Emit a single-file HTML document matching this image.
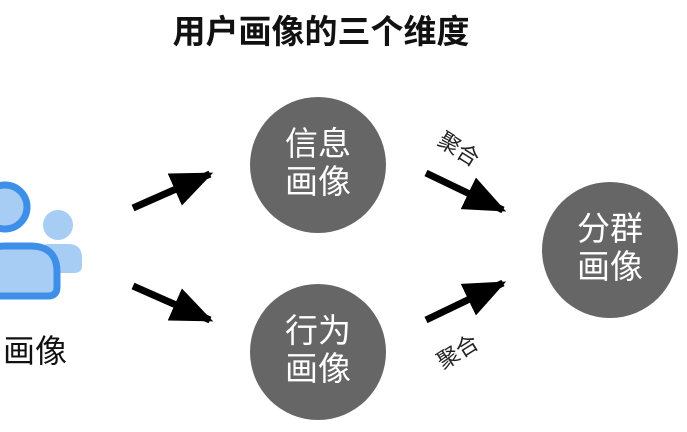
<!DOCTYPE html>
<html><head><meta charset="utf-8"><style>
html,body{margin:0;padding:0;background:#fff;}
svg{display:block;}
text{font-family:"Liberation Sans","Noto Sans CJK SC",sans-serif;}
</style></head><body>
<svg width="687" height="432" viewBox="0 0 687 432" xmlns="http://www.w3.org/2000/svg">
<defs>
<marker id="ah" markerWidth="6" markerHeight="5" refX="5.5" refY="2.5" orient="auto" markerUnits="strokeWidth">
<path d="M0,0 L6,2.5 L0,5 Z" fill="#000"/>
</marker>
</defs>
<text x="321" y="43" font-size="33" font-weight="bold" text-anchor="middle" fill="#111">用户画像的三个维度</text>
<!-- icon -->
<circle cx="58" cy="225" r="15" fill="#a8cdf5"/>
<path d="M40,250 Q40,244 50,244 L68,244 Q82,244 82,258 L82,266 Q82,273 74,273 L40,273 Z" fill="#a8cdf5"/>
<path d="M-20,296 L-20,270 Q-20,246 5,246 L30,246 Q57,246 57,272 L57,287 Q57,296 48,296 Z" fill="#a8cdf5" stroke="#3d8fe8" stroke-width="7"/>
<circle cx="5" cy="207" r="22" fill="#a8cdf5" stroke="#3d8fe8" stroke-width="7"/>
<text x="3" y="362" font-size="32" fill="#111">画像</text>
<!-- circles -->
<circle cx="318" cy="165" r="68" fill="#666"/>
<circle cx="318" cy="352" r="68" fill="#666"/>
<circle cx="610" cy="250" r="68" fill="#666"/>
<g font-size="33" fill="#fff" text-anchor="middle">
<text x="318" y="155">信息</text><text x="318" y="193">画像</text>
<text x="318" y="342">行为</text><text x="318" y="380">画像</text>
<text x="610" y="240">分群</text><text x="610" y="278">画像</text>
</g>
<!-- arrows -->
<g stroke="#000" stroke-width="7" marker-end="url(#ah)">
<line x1="133" y1="208" x2="210" y2="174"/>
<line x1="133" y1="286" x2="210" y2="320"/>
<line x1="426" y1="173" x2="503" y2="210"/>
<line x1="426" y1="320" x2="503" y2="283"/>
</g>
<text transform="translate(436,144) rotate(32)" font-size="22" fill="#222">聚合</text>
<text transform="translate(443,370) rotate(-32)" font-size="22" fill="#222">聚合</text>
</svg>
</body></html>
